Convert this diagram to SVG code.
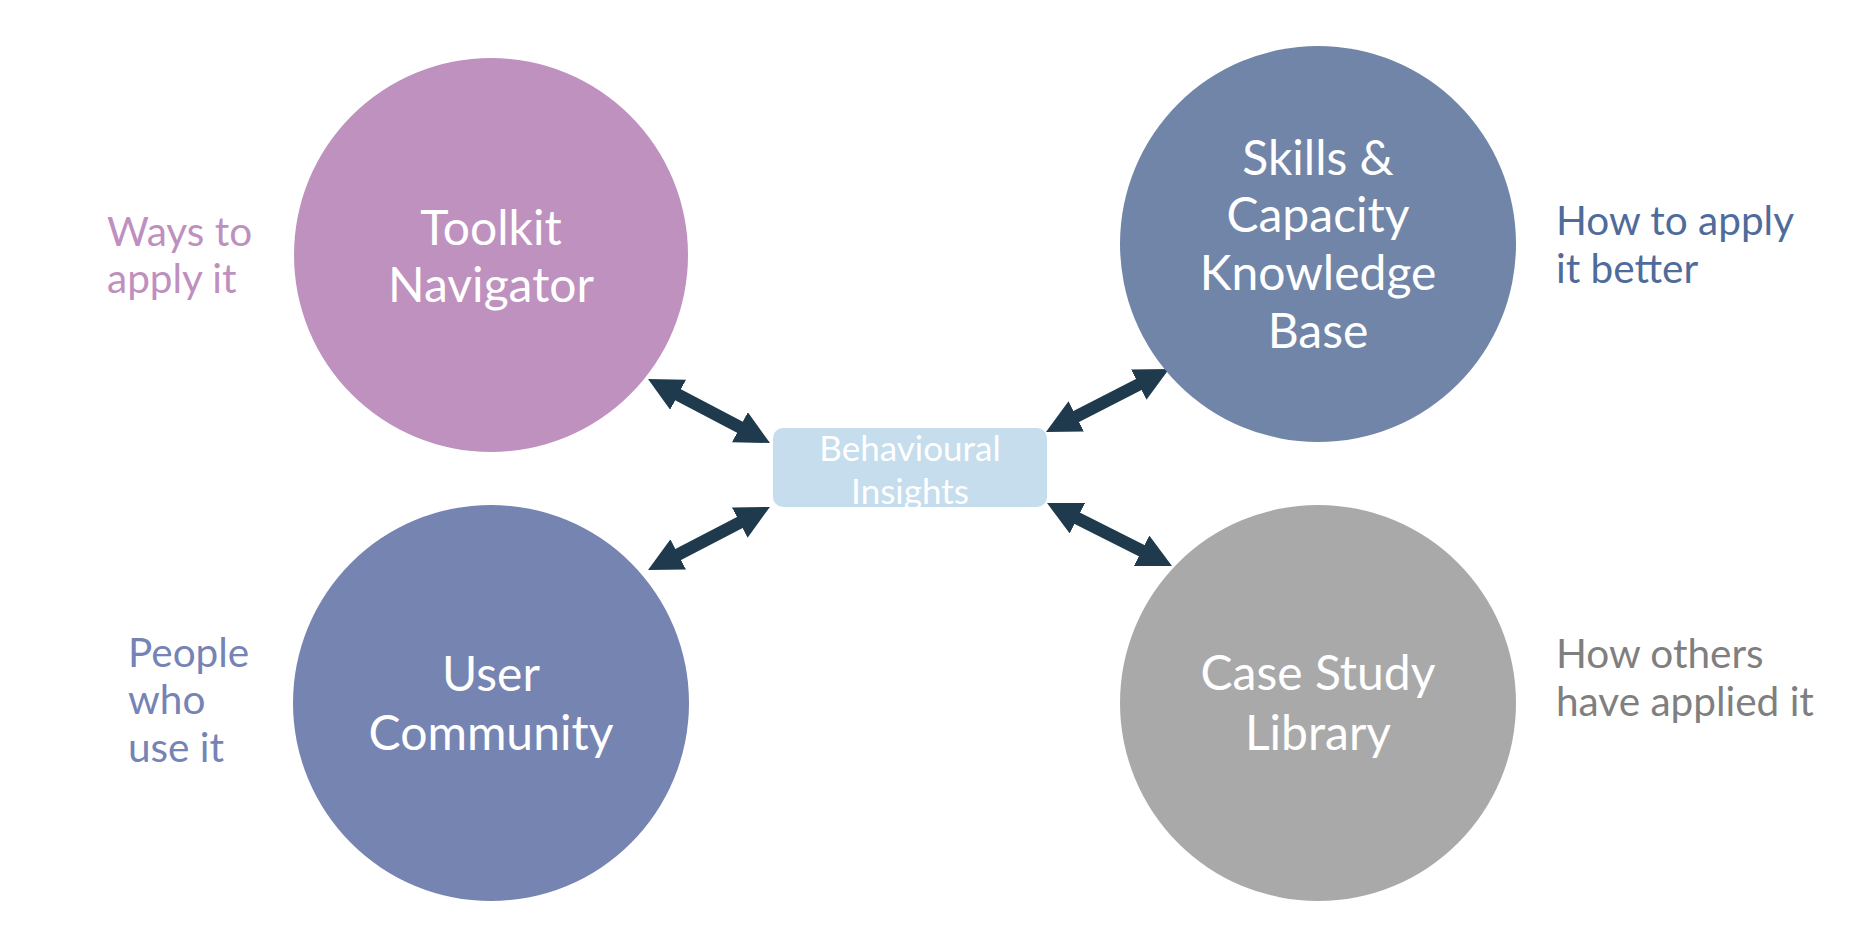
<svg xmlns="http://www.w3.org/2000/svg" width="1872" height="952" viewBox="0 0 1872 952">
<style>
.ct{font-family:Lato,"Open Sans","Liberation Sans",sans-serif;font-size:48px;fill:#ffffff;text-anchor:middle}
.st{font-family:Lato,"Open Sans","Liberation Sans",sans-serif;font-size:40.5px}
.bt{font-family:Lato,"Open Sans","Liberation Sans",sans-serif;font-size:35px;fill:#ffffff;text-anchor:middle}
.arr{stroke:#1e3a4c;stroke-width:12.5;fill:none;marker-start:url(#ah);marker-end:url(#ah)}
</style>
<defs>
<marker id="ah" viewBox="0 0 34 34" refX="6" refY="17" markerWidth="34" markerHeight="34" markerUnits="userSpaceOnUse" orient="auto-start-reverse">
<path d="M0,0 L34,17 L0,34 z" fill="#1e3a4c"/>
</marker>
</defs>
<rect width="1872" height="952" fill="#ffffff"/>
<g id="connectors">
<line class="arr" x1="672.8" y1="392" x2="745.2" y2="430"/>
<line class="arr" x1="672.9" y1="557.2" x2="745.1" y2="519.8"/>
<line class="arr" x1="1070.9" y1="419.2" x2="1144.1" y2="381.8"/>
<line class="arr" x1="1072" y1="515.6" x2="1147" y2="553.4"/>
</g>
<g id="toolkit">
<circle cx="491" cy="255" r="197" fill="#be91bf"/>
<text class="ct" x="491" y="245">Toolkit</text>
<text class="ct" x="491" y="302">Navigator</text>
</g>
<g id="toolkit-note">
<text class="st" fill="#be8fbf" x="107" y="246">Ways to</text>
<text class="st" fill="#be8fbf" x="107" y="293">apply it</text>
</g>
<g id="skills">
<circle cx="1318" cy="244" r="198" fill="#7185a8"/>
<text class="ct" x="1318" y="175">Skills &amp;</text>
<text class="ct" x="1318" y="232">Capacity</text>
<text class="ct" x="1318" y="290">Knowledge</text>
<text class="ct" x="1318" y="348">Base</text>
</g>
<g id="skills-note">
<text class="st" fill="#4f6b9c" x="1556" y="235">How to apply</text>
<text class="st" fill="#4f6b9c" x="1556" y="283">it better</text>
</g>
<g id="community">
<circle cx="491" cy="703" r="198" fill="#7684b2"/>
<text class="ct" x="491" y="691">User</text>
<text class="ct" x="491" y="750">Community</text>
</g>
<g id="community-note">
<text class="st" fill="#7583b5" x="128" y="667">People</text>
<text class="st" fill="#7583b5" x="128" y="714">who</text>
<text class="st" fill="#7583b5" x="128" y="762">use it</text>
</g>
<g id="casestudy">
<circle cx="1318" cy="703" r="198" fill="#a9a9a9"/>
<text class="ct" x="1318" y="690">Case Study</text>
<text class="ct" x="1318" y="750">Library</text>
</g>
<g id="casestudy-note">
<text class="st" fill="#7f7f7f" x="1556" y="668">How others</text>
<text class="st" fill="#7f7f7f" x="1556" y="716">have applied it</text>
</g>
<g id="behavioural">
<rect x="773" y="428" width="274" height="79" rx="10" fill="#c5ddec"/>
<text class="bt" x="910" y="461">Behavioural</text>
<text class="bt" x="910" y="504">Insights</text>
</g>
</svg>
